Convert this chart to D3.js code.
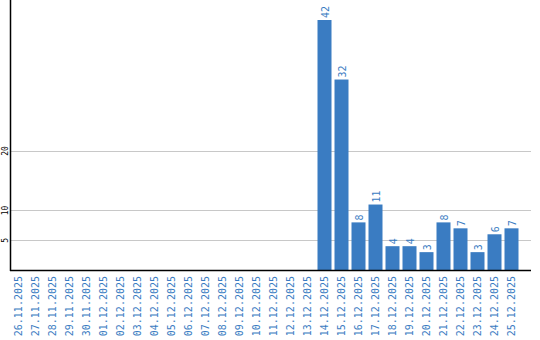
<!DOCTYPE html>
<meta charset="utf-8" />
<style>
  body { margin: 0; background: #fff; }
  .grid line { stroke: #c8c8c8; stroke-width: 1; shape-rendering: crispEdges; }
  .xlab, .vlab { font-family: "DejaVu Sans Mono", monospace; font-size: 10px; fill: #3a7cc2; }
  .ylab { font-family: "DejaVu Sans Mono", monospace; font-size: 8px; fill: #000; }
</style>
<svg width="540" height="340"></svg>
<script src="https://cdn.jsdelivr.net/npm/d3@7"></script>
<script>
  var dates = ["26.11.2025", "27.11.2025", "28.11.2025", "29.11.2025", "30.11.2025",
    "01.12.2025", "02.12.2025", "03.12.2025", "04.12.2025", "05.12.2025",
    "06.12.2025", "07.12.2025", "08.12.2025", "09.12.2025", "10.12.2025",
    "11.12.2025", "12.12.2025", "13.12.2025", "14.12.2025", "15.12.2025",
    "16.12.2025", "17.12.2025", "18.12.2025", "19.12.2025", "20.12.2025",
    "21.12.2025", "22.12.2025", "23.12.2025", "24.12.2025", "25.12.2025"];
  var counts = [0, 0, 0, 0, 0, 0, 0, 0, 0, 0, 0, 0, 0, 0, 0, 0, 0, 0,
    42, 32, 8, 11, 4, 4, 3, 8, 7, 3, 6, 7];
  var yTicks = [5, 10, 20];

  var rows = dates.map(function(d, i) { return { date: d, value: counts[i] }; });

  var svg = d3.select("svg");
  var left = 10, right = 531, base = 270;

  var x = d3.scaleBand().domain(dates).range([left, 520])
    .paddingInner(3 / 17).paddingOuter(1.5 / 17);
  var y = d3.scaleLinear().domain([0, 42]).range([base, 20]);

  // gridlines
  svg.append("g").attr("class", "grid")
    .selectAll("line").data(yTicks).enter().append("line")
    .attr("x1", left).attr("x2", right)
    .attr("y1", function(d) { return Math.round(y(d)) + 0.5; })
    .attr("y2", function(d) { return Math.round(y(d)) + 0.5; });

  // bars
  svg.append("g").selectAll("rect").data(rows).enter().append("rect")
    .attr("x", function(d) { return x(d.date); })
    .attr("width", x.bandwidth())
    .attr("y", function(d) { return y(d.value); })
    .attr("height", function(d) { return base - y(d.value); })
    .attr("fill", "#3a7cc2");

  // value labels
  svg.append("g").selectAll("text")
    .data(rows.filter(function(d) { return d.value > 0; }))
    .enter().append("text").attr("class", "vlab")
    .attr("transform", function(d) {
      var cx = x(d.date) + x.bandwidth() / 2;
      return "translate(" + (cx + 4) + "," + (y(d.value) - 2) + ") rotate(-90)";
    })
    .text(function(d) { return d.value; });

  // axis lines
  svg.append("line").attr("x1", left + 0.5).attr("x2", left + 0.5)
    .attr("y1", 0).attr("y2", base + 1).attr("stroke", "#000").attr("stroke-width", 1.5);
  svg.append("line").attr("x1", left).attr("x2", right)
    .attr("y1", base + 0.5).attr("y2", base + 0.5).attr("stroke", "#000").attr("stroke-width", 1.5);

  // y labels
  svg.append("g").selectAll("text").data(yTicks).enter().append("text")
    .attr("class", "ylab")
    .attr("text-anchor", "middle")
    .attr("transform", function(d) { return "translate(8," + y(d) + ") rotate(-90)"; })
    .text(function(d) { return d; });

  // x labels
  svg.append("g").selectAll("text").data(dates).enter().append("text")
    .attr("class", "xlab")
    .attr("text-anchor", "end")
    .attr("transform", function(d) {
      return "translate(" + (x(d) + x.bandwidth() / 2 + 3.5) + "," + (base + 6) + ") rotate(-90)";
    })
    .text(function(d) { return d; });
</script>
